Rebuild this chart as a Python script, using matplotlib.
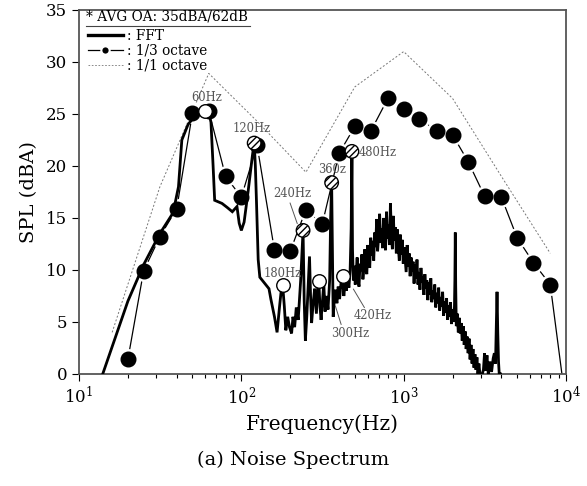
import numpy as np
import matplotlib
matplotlib.use('Agg')
import matplotlib.pyplot as plt
from matplotlib.lines import Line2D
from matplotlib.ticker import LogLocator, LogFormatterMathtext, MultipleLocator

plt.rcParams['font.family'] = ['DejaVu Serif']
plt.rcParams['mathtext.fontset'] = 'dejavuserif'

#================================================
# Data

# 1/3 octave band levels (dBA)
third_freq = [20, 25, 31.5, 40, 50, 63, 80, 100, 125, 160, 200, 250, 315, 400,
              500, 630, 800, 1000, 1250, 1600, 2000, 2500, 3150, 4000, 5000,
              6300, 8000, 10000]
third_spl = [1.4, 9.9, 13.2, 15.9, 25.1, 25.3, 19.0, 17.0, 22.0, 11.9, 11.8, 15.8,
             14.4, 21.2, 23.8, 23.4, 26.5, 25.5, 24.5, 23.4, 23.0, 20.4, 17.1,
             17.0, 13.1, 10.7, 8.6, -3.0]

# 1/1 octave band levels (dBA)
oct_freq = [16, 31.5, 63, 125, 250, 500, 1000, 2000, 4000, 8000]
oct_spl = [4.0, 18.0, 28.9, 24.3, 19.4, 27.6, 31.0, 26.5, 19.0, 11.6]

# FFT spectrum, low part
fft_lo_freq = [14, 20, 25, 31.5, 38, 41, 43, 47, 53, 57, 60, 63, 65, 67, 68.5, 76,
               82, 88, 94, 97, 100, 104, 110, 117, 120, 122, 124, 127, 130, 138,
               148, 152, 160, 166, 172, 176, 180, 184, 188, 193, 198, 204, 208,
               213, 218, 224, 232, 240, 244, 248, 253, 258, 263, 267, 271, 277,
               283, 290, 296, 300, 305, 310, 316, 322, 328, 335, 342, 350, 355,
               360, 364, 368, 374, 380, 388, 395, 403, 411, 420, 428, 436, 444,
               452, 460, 468, 475, 480, 484]
fft_lo_spl = [0, 7.0, 10.5, 13.5, 15.5, 18.0, 22.5, 24.0, 25.0, 25.4, 25.6, 25.2,
              24.2, 20.0, 16.7, 16.4, 16.0, 15.6, 16.1, 14.5, 13.8, 14.6, 17.5, 21.0,
              22.3, 20.0, 16.5, 11.0, 9.3, 8.8, 8.2, 7.2, 5.5, 4.0, 6.5, 8.0, 8.4,
              6.5, 4.2, 5.5, 4.5, 3.9, 5.5, 4.5, 6.4, 5.2, 9.0, 13.8, 7.0, 3.2, 5.5,
              8.5, 11.3, 7.5, 4.9, 6.8, 8.2, 5.8, 8.5, 9.0, 6.5, 5.2, 7.0, 8.7, 6.0,
              7.5, 6.2, 9.0, 15.0, 18.4, 12.0, 5.5, 7.2, 8.1, 6.8, 8.4, 7.2, 8.7,
              9.4, 7.5, 8.8, 8.0, 9.2, 8.3, 10.0, 14.0, 21.4, 12.0]

# FFT spectrum, broadband part
fft_hi_freq = [490, 497, 503, 510, 517, 524, 531, 538, 546, 553, 561, 569, 577, 585,
               593, 601, 610, 618, 627, 636, 645, 654, 663, 672, 682, 691, 701, 711,
               721, 731, 741, 752, 762, 773, 784, 795, 806, 817, 829, 840, 852, 864,
               876, 889, 901, 914, 927, 940, 953, 966, 980, 994, 1008, 1022, 1036,
               1051, 1066, 1081, 1096, 1111, 1127, 1143, 1159, 1175, 1192, 1208,
               1225, 1243, 1260, 1278, 1296, 1314, 1333, 1351, 1371, 1390, 1409,
               1429, 1449, 1470, 1490, 1511, 1533, 1554, 1576, 1598, 1621, 1643,
               1667, 1690, 1714, 1738, 1762, 1787, 1812, 1838, 1864, 1890, 1916,
               1943, 1971, 1998, 2026, 2055, 2068, 2080, 2092, 2110, 2140, 2170,
               2200, 2231, 2263, 2294, 2327, 2359, 2392, 2426, 2460, 2495, 2530,
               2565, 2601, 2638, 2675, 2712, 2750, 2789, 2828, 2868, 2908, 2949,
               3050, 3100, 3150, 3200, 3260, 3320, 3400, 3480, 3560, 3620, 3680,
               3720, 3760, 3800, 3840, 3880, 3950]
fft_hi_spl = [9.0, 10.4, 8.6, 9.8, 11.2, 9.0, 8.4, 10.6, 9.9, 11.5, 9.1, 10.2, 12.0,
              10.0, 9.6, 12.4, 11.0, 10.2, 13.1, 11.4, 12.8, 10.9, 13.6, 12.2, 14.9,
              11.8, 13.2, 15.4, 12.6, 14.0, 12.1, 15.0, 13.3, 11.9, 15.6, 13.0, 14.4,
              12.4, 16.4, 13.5, 12.0, 15.2, 12.8, 14.1, 11.6, 13.9, 12.2, 10.9, 13.4,
              11.5, 12.9, 10.6, 12.2, 11.0, 9.8, 12.4, 10.3, 11.6, 9.4, 11.2, 9.9,
              10.8, 8.7, 10.5, 9.2, 11.0, 8.6, 9.8, 8.1, 10.2, 8.8, 9.4, 7.6, 9.6,
              8.2, 9.0, 7.1, 8.8, 7.6, 9.2, 6.9, 8.0, 7.2, 8.6, 6.4, 7.8, 6.8, 8.3,
              6.1, 7.4, 6.5, 7.9, 5.6, 7.0, 5.9, 7.3, 5.2, 6.6, 5.5, 6.9, 4.8, 6.2,
              5.0, 6.4, 9.0, 13.6, 8.5, 4.6, 5.8, 4.0, 5.4, 3.9, 4.9, 3.2, 4.6, 2.8,
              4.1, 2.4, 3.6, 2.0, 3.4, 1.4, 2.8, 1.0, 2.4, 0.6, 1.9, 0.4, 1.6, 0,
              1.0, 0, 0, 0.4, 2.0, 0.3, 1.8, 0, 1.2, 0.2, 1.5, 2.0, 1.0, 4.5, 7.9,
              4.0, 1.2, 0, 0]

fft_freq = fft_lo_freq + fft_hi_freq
fft_spl = fft_lo_spl + fft_hi_spl

# Harmonic peaks (60 Hz multiples)
peak_freq = [60, 120, 180, 240, 300, 360, 420, 480]
peak_spl = [25.3, 22.2, 8.6, 13.8, 8.9, 18.4, 9.4, 21.4]
peak_hatched = [False, True, False, True, False, True, False, True]
peak_labels = ['60Hz', '120Hz', '180Hz', '240Hz', '300Hz', '360z', '420Hz', '480Hz']
label_pos = [(61, 26.6), (115, 23.6), (179, 9.7), (206, 17.4), (467, 3.85),
             (361, 19.7), (646, 5.6), (692, 21.25)]

#================================================
# Plotting

fig = plt.figure(figsize=(5.87, 4.86), dpi=100)
ax = fig.add_axes([0.1346, 0.2305, 0.8296, 0.749])

ax.plot(oct_freq, oct_spl, color='#777777', lw=0.7, ls=(0, (2, 2)), zorder=1)
ax.plot(third_freq, third_spl, color='black', lw=0.9, zorder=1)
ax.plot(third_freq, third_spl, ls='none', marker='o', ms=14, mfc='white',
        mec='white', zorder=2)
ax.plot(fft_freq, fft_spl, color='black', lw=2.0, zorder=3, solid_joinstyle='miter')
ax.plot(third_freq, third_spl, ls='none', marker='o', ms=10.5, mfc='black',
        mec='black', zorder=4)

for f, v, h in zip(peak_freq, peak_spl, peak_hatched):
    ax.scatter([f], [v], s=95, facecolor='white', edgecolor='black', lw=1.0,
               hatch='/////' if h else None, zorder=5)

for lab, (fx, fy) in zip(peak_labels, label_pos):
    ax.text(fx, fy, lab, ha='center', va='center', fontsize=8.3, color='#555555',
            zorder=6)

# leader lines
ax.annotate('', xy=(224, 14.2), xytext=(197, 16.7),
            arrowprops=dict(arrowstyle='-', color='#555555', lw=0.7))
ax.annotate('', xy=(375, 6.8), xytext=(417, 4.5),
            arrowprops=dict(arrowstyle='-', color='#555555', lw=0.7))
ax.annotate('', xy=(480, 8.4), xytext=(585, 6.15),
            arrowprops=dict(arrowstyle='-', color='#555555', lw=0.7))

ax.set_xscale('log')
ax.set_xlim(10, 1e4)
ax.set_ylim(0, 35)
ax.yaxis.set_major_locator(MultipleLocator(5))
ax.xaxis.set_major_locator(LogLocator(base=10))
ax.xaxis.set_major_formatter(LogFormatterMathtext())
ax.xaxis.set_minor_locator(LogLocator(base=10, subs=np.arange(2, 10)))
ax.tick_params(axis='both', which='major', direction='out', length=5, width=0.8,
               labelsize=12)
ax.tick_params(axis='x', which='minor', direction='out', length=3, width=0.8)
for s in ax.spines.values():
    s.set_color('#555555')
    s.set_linewidth(1.3)

ax.set_xlabel('Frequency(Hz)', fontsize=14.5, labelpad=5)
ax.set_ylabel('SPL (dBA)', fontsize=14, labelpad=6)
fig.text(0.5, 0.053, '(a) Noise Spectrum', ha='center', va='center', fontsize=14)

# legend
ax.text(0.014, 0.962, '* AVG OA: 35dBA/62dB', transform=ax.transAxes, fontsize=9.8,
        ha='left', va='bottom')
ax.plot([0.014, 0.352], [0.955, 0.955], transform=ax.transAxes, color='#444444', lw=0.8)
handles = [Line2D([], [], color='black', lw=2.4),
           Line2D([], [], color='black', lw=0.9, marker='o', ms=6, mfc='black',
                  mec='white', mew=1.5),
           Line2D([], [], color='#777777', lw=0.6, ls=(0, (2, 2)))]
ax.legend(handles, [': FFT', ': 1/3 octave', ': 1/1 octave'], loc='upper left',
          bbox_to_anchor=(0.012, 0.955), frameon=False, fontsize=9.8, handlelength=2.6,
          handletextpad=0.3, labelspacing=0.05, borderpad=0.2, borderaxespad=0.0)

fig.savefig('out.png', dpi=100)
